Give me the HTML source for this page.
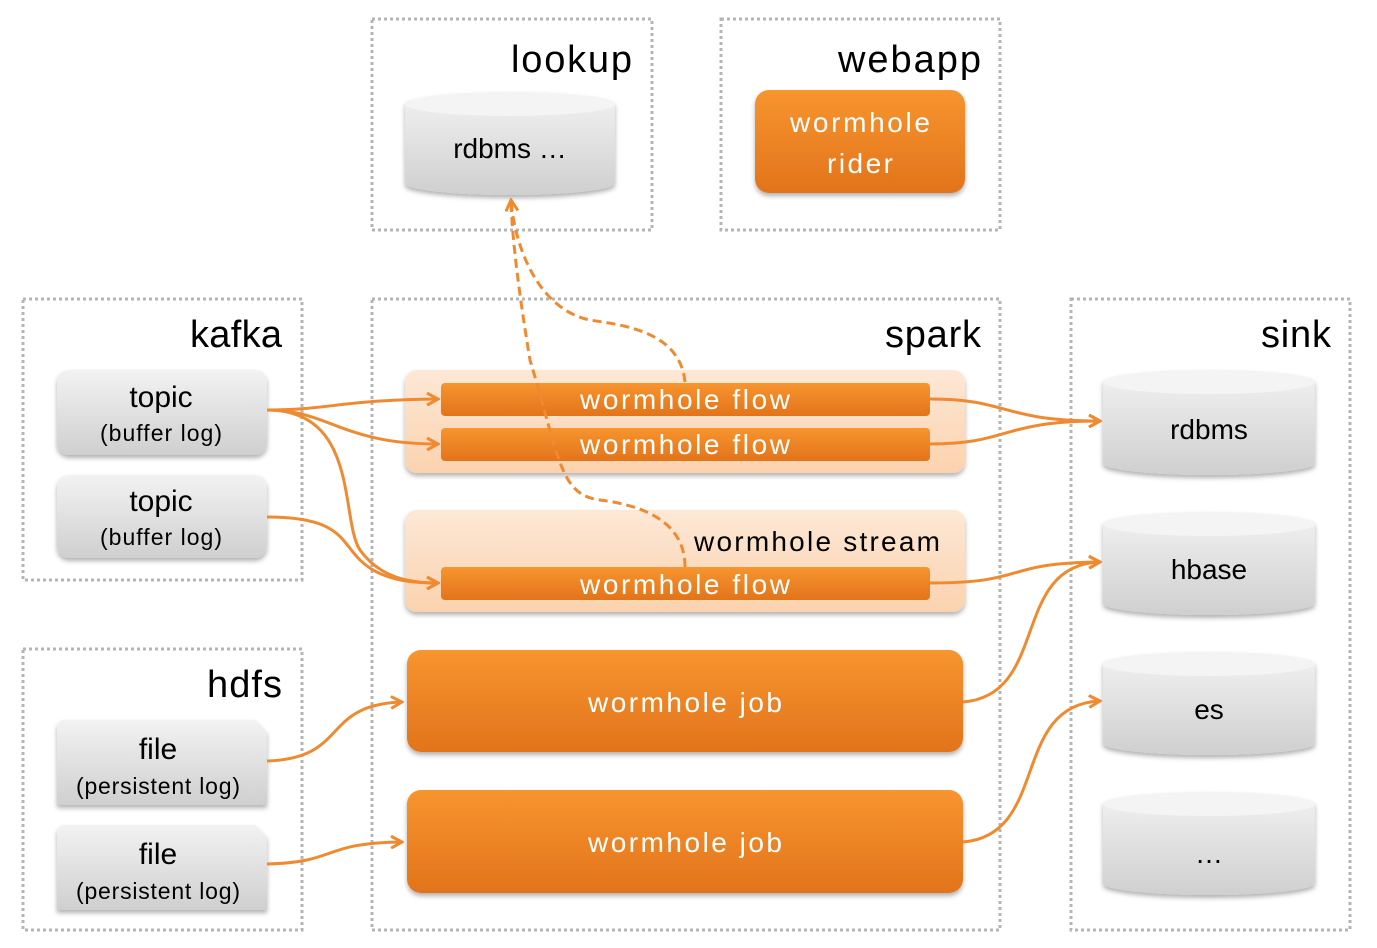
<!DOCTYPE html>
<html><head><meta charset="utf-8"><style>
html,body{margin:0;padding:0;background:#fff;}
svg{display:block;font-family:"Liberation Sans",sans-serif;}
</style></head><body>
<svg width="1377" height="948" viewBox="0 0 1377 948" xmlns="http://www.w3.org/2000/svg">
<defs>
<linearGradient id="gray" x1="0" y1="0" x2="0" y2="1"><stop offset="0" stop-color="#f2f2f2"/><stop offset="1" stop-color="#cfcfcf"/></linearGradient>
<linearGradient id="orng" x1="0" y1="0" x2="0" y2="1"><stop offset="0" stop-color="#f7952f"/><stop offset="1" stop-color="#e2731b"/></linearGradient>
<linearGradient id="pale" x1="0" y1="0" x2="0" y2="1"><stop offset="0" stop-color="#fde8d6"/><stop offset="1" stop-color="#fbd2ae"/></linearGradient>
<filter id="sh" x="-10%" y="-10%" width="120%" height="130%"><feDropShadow dx="0" dy="3" stdDeviation="2.5" flood-color="#000" flood-opacity="0.3"/></filter>
<marker id="ar" viewBox="0 0 14 14" refX="12" refY="7" markerWidth="14" markerHeight="14" markerUnits="userSpaceOnUse" orient="auto"><path d="M1,1 L12,7 L1,13" fill="none" stroke="#f08a30" stroke-width="3"/></marker>
</defs>
<g fill="none" stroke="#b5b5b5" stroke-width="3" stroke-dasharray="3,3">
<rect x="372" y="19" width="280" height="211"/>
<rect x="721" y="19" width="279" height="211"/>
<rect x="23" y="299" width="279" height="281"/>
<rect x="372" y="299" width="628" height="631"/>
<rect x="1071" y="299" width="279" height="631"/>
<rect x="23" y="649" width="279" height="281"/>
</g>
<g font-size="38" fill="#000" text-anchor="end">
<text x="632" y="72" textLength="121">lookup</text>
<text x="981" y="72" textLength="143">webapp</text>
<text x="282" y="347" textLength="92">kafka</text>
<text x="981" y="347" textLength="96">spark</text>
<text x="1331" y="347" textLength="70">sink</text>
<text x="282" y="697" textLength="75">hdfs</text>
</g>
<g filter="url(#sh)">
<path d="M405,104 A105,12 0 0 1 615,104 L615,183 A105,12 0 0 1 405,183 Z" fill="url(#gray)"/>
<path d="M1103,382 A106,12 0 0 1 1315,382 L1315,463 A106,12 0 0 1 1103,463 Z" fill="url(#gray)"/>
<path d="M1103,524 A106,12 0 0 1 1315,524 L1315,603 A106,12 0 0 1 1103,603 Z" fill="url(#gray)"/>
<path d="M1103,664 A106,12 0 0 1 1315,664 L1315,743 A106,12 0 0 1 1103,743 Z" fill="url(#gray)"/>
<path d="M1103,804 A106,12 0 0 1 1315,804 L1315,883 A106,12 0 0 1 1103,883 Z" fill="url(#gray)"/>
</g>
<g fill="#f4f4f4"><ellipse cx="510" cy="104" rx="105" ry="12"/><ellipse cx="1209" cy="382" rx="106" ry="12"/><ellipse cx="1209" cy="524" rx="106" ry="12"/><ellipse cx="1209" cy="664" rx="106" ry="12"/><ellipse cx="1209" cy="804" rx="106" ry="12"/></g>
<g font-size="28" text-anchor="middle" fill="#000">
<text x="510" y="158">rdbms …</text>
<text x="1209" y="439">rdbms</text>
<text x="1209" y="579">hbase</text>
<text x="1209" y="719">es</text>
<text x="1209" y="863">…</text>
</g>
<g filter="url(#sh)" fill="url(#gray)">
<rect x="57" y="370" width="210" height="85" rx="12"/>
<rect x="57" y="475" width="210" height="83" rx="12"/>
<path d="M62,720 L255,720 L267,732 L267,805 L57,805 L57,725 Z"/>
<path d="M62,825 L255,825 L267,837 L267,910 L57,910 L57,830 Z"/>
</g>
<g text-anchor="middle" fill="#000">
<text x="161" y="407" font-size="30">topic</text><text x="161" y="441" font-size="23" textLength="122">(buffer log)</text>
<text x="161" y="511" font-size="30">topic</text><text x="161" y="545" font-size="23" textLength="122">(buffer log)</text>
<text x="158" y="759" font-size="30">file</text><text x="158" y="794" font-size="23" textLength="164">(persistent log)</text>
<text x="158" y="864" font-size="30">file</text><text x="158" y="899" font-size="23" textLength="164">(persistent log)</text>
</g>
<g filter="url(#sh)">
<rect x="405" y="370" width="560" height="103" rx="12" fill="url(#pale)"/>
<rect x="405" y="510" width="560" height="102" rx="12" fill="url(#pale)"/>
<rect x="441" y="383" width="489" height="33" rx="4" fill="url(#orng)"/>
<rect x="441" y="428" width="489" height="33" rx="4" fill="url(#orng)"/>
<rect x="441" y="567" width="489" height="33" rx="4" fill="url(#orng)"/>
<rect x="407" y="650" width="556" height="102" rx="14" fill="url(#orng)"/>
<rect x="407" y="790" width="556" height="103" rx="14" fill="url(#orng)"/>
<rect x="755" y="90" width="210" height="103" rx="14" fill="url(#orng)"/>
</g>
<g font-size="28" text-anchor="middle" fill="#fff">
<text x="685" y="409" textLength="210">wormhole flow</text>
<text x="685" y="454" textLength="210">wormhole flow</text>
<text x="685" y="594" textLength="210">wormhole flow</text>
<text x="685" y="712" textLength="194">wormhole job</text>
<text x="685" y="852" textLength="194">wormhole job</text>
<text x="860" y="132" textLength="140">wormhole</text>
<text x="860" y="173" textLength="66">rider</text>
</g>
<text x="940" y="551" font-size="28" text-anchor="end" fill="#000" textLength="246">wormhole stream</text>
<g fill="none" stroke="#f08a30" stroke-width="3">
<path d="M267,410 C330,410 340,400 438,399" marker-end="url(#ar)"/>
<path d="M267,410 C330,410 340,444 438,444" marker-end="url(#ar)"/>
<path d="M267,410 C360,410 340,520 360,550 C380,578 410,583 438,583" marker-end="url(#ar)"/>
<path d="M267,517 C340,517 340,540 360,560 C380,580 410,583 438,583" marker-end="url(#ar)"/>
<path d="M267,761 C350,758 320,705 402,702" marker-end="url(#ar)"/>
<path d="M267,864 C340,862 320,843 402,842" marker-end="url(#ar)"/>
<path d="M930,399 C1010,399 1000,421 1100,421" marker-end="url(#ar)"/>
<path d="M930,444 C1010,444 1000,421 1100,421" marker-end="url(#ar)"/>
<path d="M930,583 C1030,583 1000,563 1100,562" marker-end="url(#ar)"/>
<path d="M963,702 C1050,695 1010,565 1100,562" marker-end="url(#ar)"/>
<path d="M963,842 C1050,835 1010,705 1100,701" marker-end="url(#ar)"/>
</g>
<g fill="none" stroke="#f08a30" stroke-width="3" stroke-dasharray="9,5">
<path d="M685,382 C680,330 620,325 590,320 C540,310 515,250 511,200" marker-end="url(#ar)"/>
<path d="M685,567 C685,520 640,505 600,500 C560,495 560,460 530,360 C520,300 512,240 511,200"/>
</g>
</svg>
</body></html>
